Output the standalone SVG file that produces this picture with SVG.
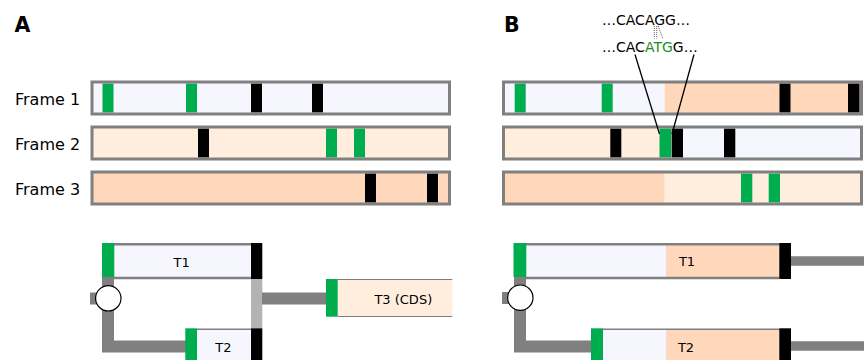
<svg xmlns="http://www.w3.org/2000/svg" width="864" height="360" viewBox="0 0 864 360">
<style>
text{font-family:"DejaVu Sans","Liberation Sans",sans-serif;fill:#000}
.lbl{font-size:16px}
.pl{font-size:20.5px;font-weight:bold}
.seq{font-size:14px}
.tl{font-size:13px;text-anchor:middle}
.fr{fill:none;stroke:#808080;stroke-width:3}
.g{fill:#00AD4E}
.k{fill:#000}
.lav{fill:#F6F6FE}
.lp{fill:#FFEEDD}
.pch{fill:#FFD7BB}
.con{stroke:#808080;fill:none}
.bd{stroke:#808080;fill:none}
</style>
<rect width="864" height="360" fill="#fff"/>
<g id="panel-labels">
<text class="pl" x="14.5" y="31.5">A</text>
<text class="pl" x="504" y="31.5">B</text>
</g>
<g id="frame-labels">
<text class="lbl" x="15" y="104.5">Frame 1</text>
<text class="lbl" x="15" y="149.5">Frame 2</text>
<text class="lbl" x="15" y="194.5">Frame 3</text>
</g>
<g id="A-frame1">
<rect class="lav" x="92" y="82" width="357.5" height="32"/>
<rect class="g" x="102.5" y="83.5" width="11" height="29"/>
<rect class="g" x="186" y="83.5" width="11" height="29"/>
<rect class="k" x="251" y="83.5" width="11" height="29"/>
<rect class="k" x="312" y="83.5" width="11" height="29"/>
<rect class="fr" x="92" y="82" width="357.5" height="32"/>
</g>
<g id="A-frame2">
<rect class="lp" x="92" y="127" width="357.5" height="32"/>
<rect class="k" x="198" y="128.5" width="11" height="29"/>
<rect class="g" x="326" y="128.5" width="11" height="29"/>
<rect class="g" x="354" y="128.5" width="11" height="29"/>
<rect class="fr" x="92" y="127" width="357.5" height="32"/>
</g>
<g id="A-frame3">
<rect class="pch" x="92" y="172" width="357.5" height="32"/>
<rect class="k" x="365" y="173.5" width="11" height="29"/>
<rect class="k" x="427" y="173.5" width="11" height="29"/>
<rect class="fr" x="92" y="172" width="357.5" height="32"/>
</g>
<g id="B-frame1">
<rect class="lav" x="503.5" y="82" width="161.2" height="32"/>
<rect class="pch" x="664.7" y="82" width="196.8" height="32"/>
<rect class="g" x="514.7" y="83.5" width="11" height="29"/>
<rect class="g" x="601.7" y="83.5" width="11" height="29"/>
<rect class="k" x="779.5" y="83.5" width="11" height="29"/>
<rect class="k" x="848" y="83.5" width="11.5" height="29"/>
<rect class="fr" x="503.5" y="82" width="358" height="32"/>
</g>
<g id="B-frame2">
<rect class="lp" x="503.5" y="127" width="168.2" height="32"/>
<rect class="lav" x="671.7" y="127" width="189.8" height="32"/>
<rect class="k" x="610.3" y="128.5" width="11" height="29"/>
<rect class="g" x="659.5" y="128.5" width="11.7" height="29"/>
<rect class="k" x="671.7" y="128.5" width="11.3" height="29"/>
<rect class="k" x="724" y="128.5" width="11.3" height="29"/>
<rect class="fr" x="503.5" y="127" width="358" height="32"/>
</g>
<g id="B-frame3">
<rect class="pch" x="503.5" y="172" width="161.2" height="32"/>
<rect class="lp" x="664.7" y="172" width="196.8" height="32"/>
<rect class="g" x="741" y="173.5" width="11.3" height="29"/>
<rect class="g" x="768.7" y="173.5" width="11.3" height="29"/>
<rect class="fr" x="503.5" y="172" width="358" height="32"/>
</g>
<g id="sequence">
<text class="seq" x="602" y="24.5">…CACAGG…</text>
<text class="seq" x="602" y="52">…CAC<tspan fill="#1e8c1e">ATG</tspan>G…</text>
</g>
<g id="connectors">
<g stroke="#333" stroke-width="0.8" stroke-dasharray="1,1" fill="none">
<line x1="654.3" y1="26" x2="654.3" y2="38.5"/>
<line x1="656.7" y1="26" x2="656.7" y2="38.5"/>
<line x1="658.3" y1="26" x2="662.7" y2="38.5"/>
</g>
<line x1="635" y1="54.5" x2="659.5" y2="134" stroke="#000" stroke-width="1.3"/>
<line x1="694" y1="54.5" x2="672" y2="134" stroke="#000" stroke-width="1.3"/>
<path class="con" stroke-width="12" d="M90,298.5H108 M108,278V346.5H186"/>
<rect x="251" y="279" width="11.3" height="49.3" fill="#b3b3b3"/>
<path class="con" stroke-width="12" d="M262,298.5H327"/>
<path class="con" stroke-width="12" d="M502,298H520 M520,278V346.5H592"/>
<path class="con" stroke-width="9.5" d="M790,261H864 M790,346H864"/>
<circle cx="108.3" cy="298.3" r="12.7" fill="#fff" stroke="#000" stroke-width="1.2"/>
<circle cx="520.3" cy="297.7" r="12.7" fill="#fff" stroke="#000" stroke-width="1.2"/>
</g>
<g id="A-T1">
<rect class="lav" x="114" y="244" width="137" height="34"/>
<path class="bd" stroke-width="2.5" d="M102,244.2H251 M102,278H251"/>
<rect class="g" x="102" y="243" width="12.3" height="34"/>
<rect class="k" x="251" y="243" width="11.3" height="36"/>
<text class="tl" x="181.7" y="266.7">T1</text>
</g>
<g id="A-T2">
<rect class="lav" x="197" y="329" width="54" height="35"/>
<path class="bd" stroke-width="1.6" d="M197,329.2H251"/>
<rect class="g" x="185.3" y="328.3" width="11.7" height="36"/>
<rect class="k" x="251" y="328.3" width="11.3" height="36"/>
<text class="tl" x="223.3" y="351.7">T2</text>
</g>
<g id="A-T3">
<rect class="lp" x="337.7" y="279.5" width="114.6" height="37"/>
<path class="bd" stroke="#999" stroke-width="1" d="M337.7,279.5H452.3 M337.7,316.5H452.3"/>
<rect class="g" x="326" y="279" width="11.7" height="37.7"/>
<text class="tl" x="403.3" y="304">T3 (CDS)</text>
</g>
<g id="B-T1">
<rect class="lav" x="526" y="244" width="140" height="34"/>
<rect class="pch" x="666" y="244" width="113.5" height="34"/>
<path class="bd" stroke-width="2.5" d="M514,244.2H779.5 M514,278H779.5"/>
<rect class="g" x="513.5" y="243" width="12.8" height="34"/>
<rect class="k" x="779.3" y="243" width="11.7" height="36"/>
<text class="tl" x="687" y="266.2">T1</text>
</g>
<g id="B-T2">
<rect class="lav" x="603" y="329" width="63" height="35"/>
<rect class="pch" x="666" y="329" width="113.5" height="35"/>
<path class="bd" stroke-width="1.6" d="M603,329.2H779.5"/>
<rect class="g" x="591" y="328.3" width="12" height="36"/>
<rect class="k" x="779.3" y="328.3" width="11.7" height="36"/>
<text class="tl" x="686" y="351.7">T2</text>
</g>
</svg>
